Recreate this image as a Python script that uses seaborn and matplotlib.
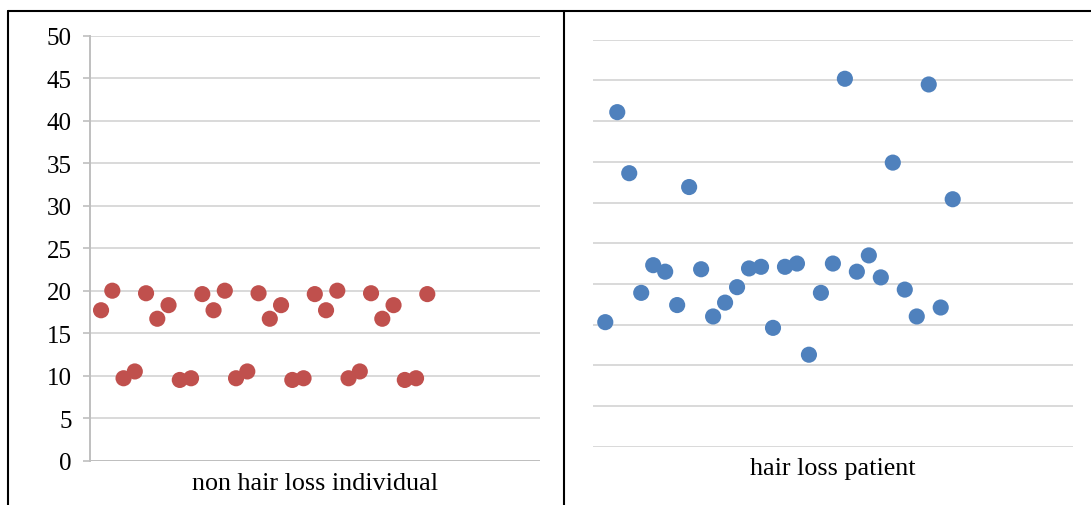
import matplotlib
matplotlib.use('Agg')
import matplotlib.pyplot as plt
import seaborn as sns
import pandas as pd
from matplotlib.lines import Line2D

# values
subject_no = list(range(1, 31))
non_hair_loss = [17.7, 20.0, 9.7, 10.5, 19.7, 16.7, 18.3, 9.5, 9.7, 19.6,
                 17.7, 20.0, 9.7, 10.5, 19.7, 16.7, 18.3, 9.5, 9.7, 19.6,
                 17.7, 20.0, 9.7, 10.5, 19.7, 16.7, 18.3, 9.5, 9.7, 19.6]
hair_loss = [15.3, 41.1, 33.6, 18.9, 22.3, 21.5, 17.4, 31.9, 21.8, 16.0,
             17.7, 19.6, 21.9, 22.1, 14.6, 22.1, 22.5, 11.3, 18.9, 22.5,
             45.2, 21.5, 23.5, 20.8, 34.9, 19.3, 16.0, 44.5, 17.1, 30.4]
panel_labels = ['non hair loss individual', 'hair loss patient']
y_ticks = [0, 5, 10, 15, 20, 25, 30, 35, 40, 45, 50]

df_left = pd.DataFrame({'n': subject_no, 'value': non_hair_loss})
df_right = pd.DataFrame({'n': subject_no, 'value': hair_loss})

sns.set_style('white')
plt.rcParams['font.family'] = ['Liberation Serif', 'DejaVu Serif']
plt.rcParams['text.color'] = 'black'
plt.rcParams['ytick.labelcolor'] = 'black'

W, H = 1091, 506
fig = plt.figure(figsize=(W / 100, H / 100), dpi=100)


def px_axes(x0, x1, y_top, y_bot):
    """Create axes from pixel coordinates (origin top-left)."""
    return fig.add_axes([x0 / W, 1 - y_bot / H, (x1 - x0) / W, (y_bot - y_top) / H])


grid_col = '#D9D9D9'
axis_col = '#BFBFBF'

ax1 = px_axes(89.8, 539.8, 36.7, 461.7)
ax2 = px_axes(593.3, 1072.5, 40.7, 447.7)

sns.scatterplot(data=df_left, x='n', y='value', ax=ax1, color='#C0504D',
                s=135, edgecolor='none', zorder=3, clip_on=False)
sns.scatterplot(data=df_right, x='n', y='value', ax=ax2, color='#4F81BD',
                s=135, edgecolor='none', zorder=3, clip_on=False)

for ax in (ax1, ax2):
    ax.set_xlim(0, 40)
    ax.set_ylim(0, 50)
    ax.set_yticks(y_ticks)
    ax.set_xticks([])
    ax.set_xlabel('')
    ax.set_ylabel('')
    ax.grid(False)
    for y in y_ticks:
        ax.axhline(y, color=grid_col, lw=1.4, zorder=1)
    for s in ax.spines.values():
        s.set_visible(False)
    ax.patch.set_alpha(0)

# left panel: axis line with tick labels
ax1.spines['left'].set_visible(True)
ax1.spines['left'].set_color(axis_col)
ax1.spines['left'].set_linewidth(1.4)
ax1.tick_params(axis='y', length=5, width=1.2, color=axis_col, labelsize=18,
                labelcolor='black', pad=8, left=True)
ax1.axhline(0, color=axis_col, lw=1.4, zorder=1)

# right panel: grid only
ax2.tick_params(axis='y', left=False, labelleft=False)

# category labels under each panel
fig.text(314.8 / W, 1 - 484 / H, panel_labels[0], ha='center', va='center',
         fontsize=18.8, color='black')
fig.text(832.9 / W, 1 - 469 / H, panel_labels[1], ha='center', va='center',
         fontsize=18.8, color='black')

# table-like borders around the panels
lw = 1.5
fig.add_artist(Line2D([8 / W, 1], [1 - 12 / H, 1 - 12 / H], color='black', lw=lw))
fig.add_artist(Line2D([8 / W, 8 / W], [0, 1 - 12 / H], color='black', lw=lw))
fig.add_artist(Line2D([564 / W, 564 / W], [0, 1 - 12 / H], color='black', lw=lw))

fig.savefig('out.png', dpi=100)
